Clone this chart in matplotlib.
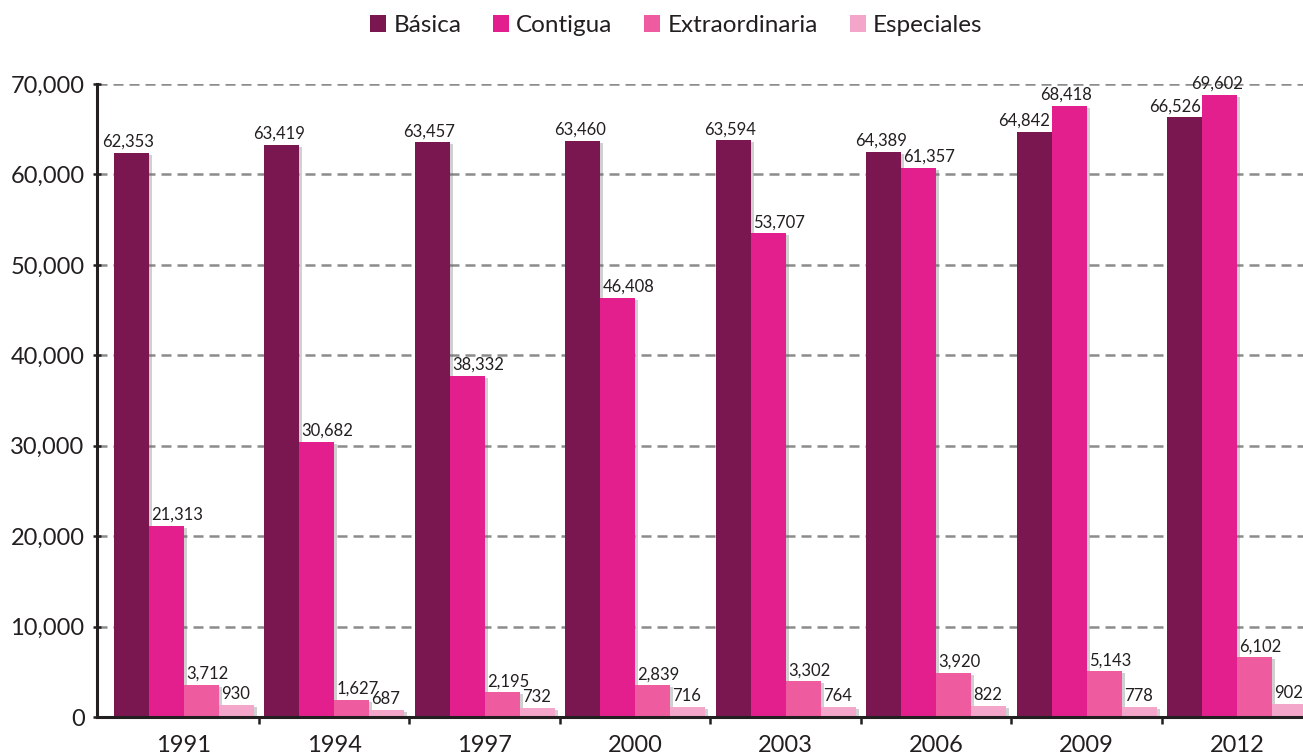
import matplotlib
matplotlib.use("Agg")
import matplotlib.pyplot as plt
import numpy as np
from matplotlib.patches import Patch
from matplotlib import patheffects as pe
from matplotlib.ticker import FuncFormatter, FixedLocator

years = ["1991", "1994", "1997", "2000", "2003", "2006", "2009", "2012"]
series_names = ["Básica", "Contigua", "Extraordinaria", "Especiales"]

# bar heights as drawn in the picture
basica = [62410, 63290, 63590, 63740, 63810, 62520, 64730, 66350]
contigua = [21160, 30440, 37740, 46350, 53500, 60750, 67600, 68820]
extraordinaria = [3590, 1930, 2740, 3510, 3960, 4880, 5060, 6610]
especiales = [1380, 750, 970, 1080, 1080, 1190, 1080, 1490]

# value labels printed on the picture
basica_lbl = [62353, 63419, 63457, 63460, 63594, 64389, 64842, 66526]
contigua_lbl = [21313, 30682, 38332, 46408, 53707, 61357, 68418, 69602]
extraordinaria_lbl = [3712, 1627, 2195, 2839, 3302, 3920, 5143, 6102]
especiales_lbl = [930, 687, 732, 716, 764, 822, 778, 902]

colors = ["#7a1750", "#e31f8e", "#ef5b9f", "#f3a6c9"]
txt = "#231f20"

plt.rcParams['font.family'] = ['Lato', 'DejaVu Sans']

fig = plt.figure(figsize=(13.03, 7.54), dpi=100)
ax = fig.add_axes([97/1303, 37/754, 1 - 97/1303, 633/754])

heights = [basica, contigua, extraordinaria, especiales]
labels = [basica_lbl, contigua_lbl, extraordinaria_lbl, especiales_lbl]
n = len(years)
x = np.arange(n)
bw = 35/150.5
shadow = [pe.SimplePatchShadow(offset=(2, -1.5), shadow_rgbFace='#666666', alpha=0.3), pe.Normal()]

for s in range(4):
    xs = x + (s - 1.5) * bw
    bars = ax.bar(xs, heights[s], width=bw, color=colors[s], zorder=3, linewidth=0)
    for b in bars:
        b.set_path_effects(shadow)
    for i in range(n):
        h = heights[s][i]
        lab = f"{labels[s][i]:,}"
        if s == 0:
            if heights[1][i] > h:
                ax.annotate(lab, (xs[i] + bw/2, h), xytext=(-1, 2), textcoords='offset points',
                            ha='right', va='bottom', fontsize=12, color=txt, zorder=5)
            else:
                ax.annotate(lab, (xs[i], h), xytext=(-2, 2), textcoords='offset points',
                            ha='center', va='bottom', fontsize=12, color=txt, zorder=5)
        elif s == 1 and h > heights[0][i]:
            ax.annotate(lab, (xs[i], h), xytext=(-2, 2), textcoords='offset points',
                        ha='center', va='bottom', fontsize=12, color=txt, zorder=5)
        else:
            ax.annotate(lab, (xs[i] - bw/2, h), xytext=(1.5, 2), textcoords='offset points',
                        ha='left', va='bottom', fontsize=12, color=txt, zorder=5)

ax.set_xlim((97 - 183.75)/150.5, (1303 - 183.75)/150.5)
ax.set_ylim(0, 70000)
ax.set_yticks(np.arange(0, 70001, 10000))
ax.yaxis.set_major_formatter(FuncFormatter(lambda v, p: f"{int(v):,}"))
ax.yaxis.grid(True, linestyle=(0, (4, 2.4)), color='#8c8c8c', linewidth=1.8, zorder=0)
ax.set_axisbelow(True)

ax.xaxis.set_major_locator(FixedLocator(x[:-1] + 0.5))
ax.xaxis.set_minor_locator(FixedLocator(x))
ax.set_xticklabels([], minor=False)
ax.set_xticklabels(years, minor=True)
ax.tick_params(axis='x', which='major', direction='out', length=5, width=1.8, color=txt)
ax.tick_params(axis='x', which='minor', length=0, pad=13, labelsize=17, labelcolor=txt)
ax.tick_params(axis='y', direction='inout', length=6, width=1.8, color=txt, pad=6,
               labelsize=17, labelcolor=txt)

for sp in ['top', 'right']:
    ax.spines[sp].set_visible(False)
for sp in ['left', 'bottom']:
    ax.spines[sp].set_color(txt)
    ax.spines[sp].set_linewidth(2.2)
    ax.spines[sp].set_zorder(4)

handles = [Patch(facecolor=c, edgecolor='none') for c in colors]
fig.legend(handles, series_names, loc='center', bbox_to_anchor=(0.519, 0.966), ncol=4,
           frameon=False, fontsize=17.5, handlelength=0.66, handleheight=0.7,
           handletextpad=0.3, columnspacing=1.3, labelcolor=txt)

fig.savefig("out.png", dpi=100)
